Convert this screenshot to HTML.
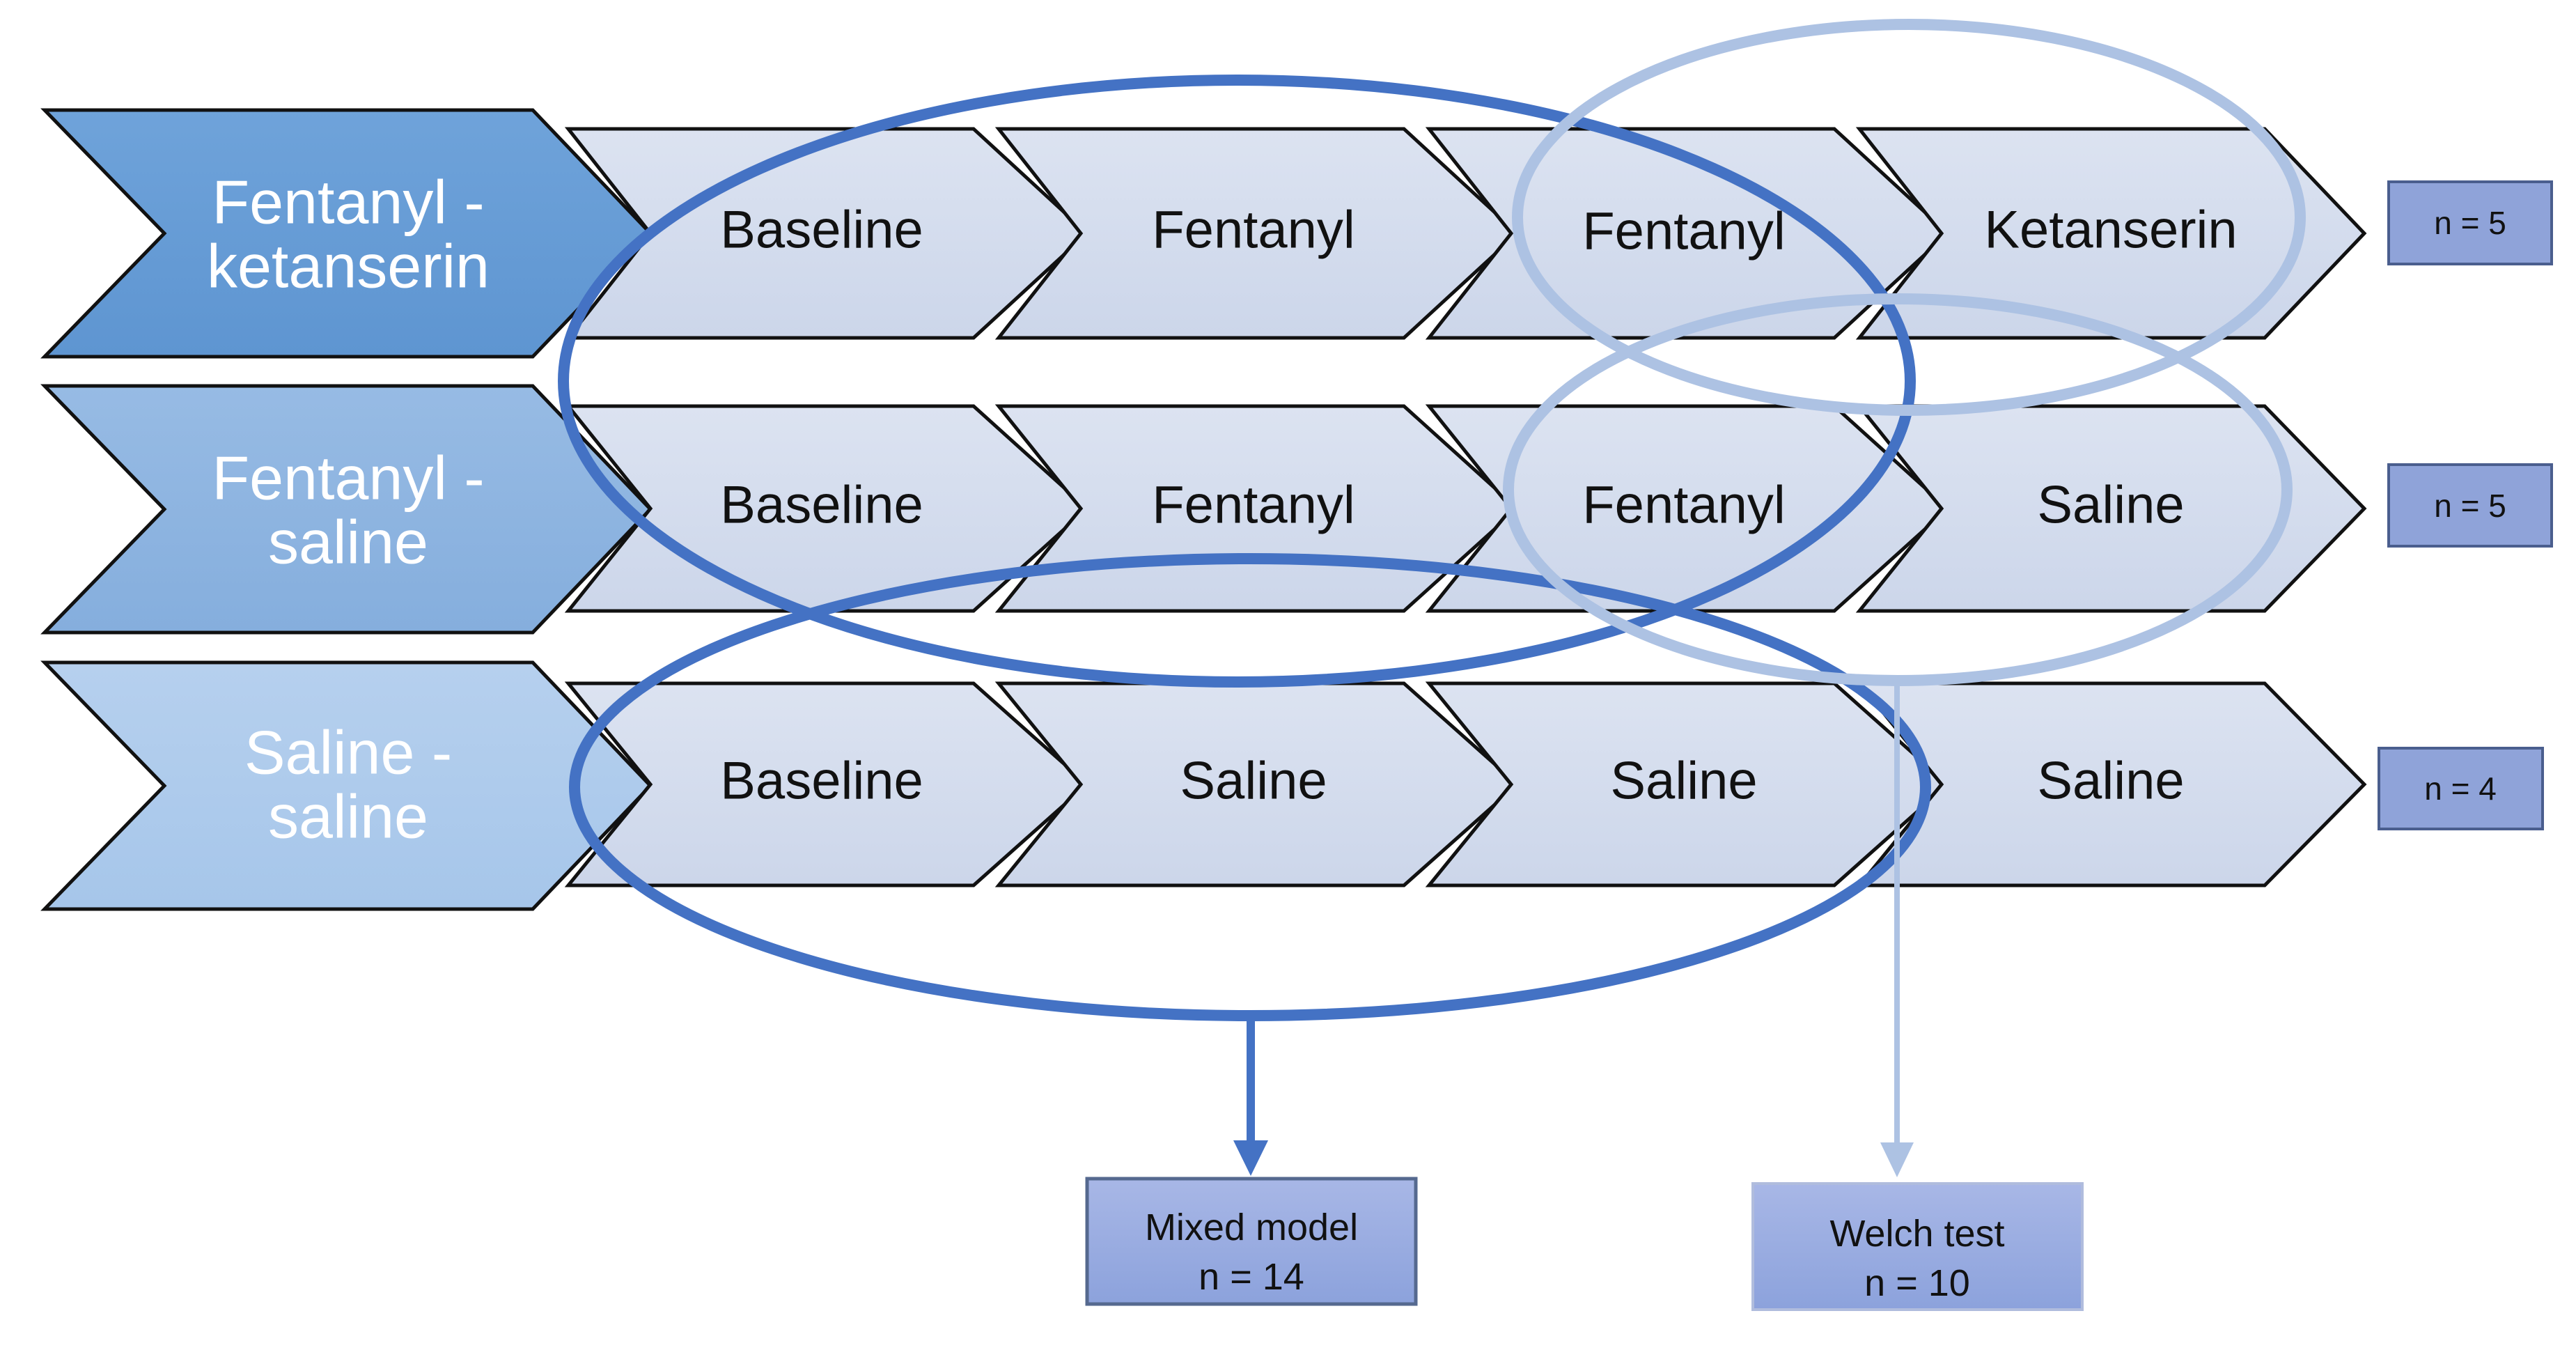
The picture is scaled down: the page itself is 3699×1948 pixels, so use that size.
<!DOCTYPE html>
<html><head><meta charset="utf-8"><style>
html,body{margin:0;padding:0;background:#fff;}
svg{display:block;}
text{font-family:"Liberation Sans",Arial,sans-serif;}
</style></head><body>
<svg width="3699" height="1948" viewBox="0 0 3699 1948" xmlns="http://www.w3.org/2000/svg">
<defs>
<linearGradient id="st" x1="0" y1="0" x2="0" y2="1"><stop offset="0" stop-color="#DCE3F1"/><stop offset="1" stop-color="#CCD6EA"/></linearGradient>
<linearGradient id="h1" x1="0" y1="0" x2="0" y2="1"><stop offset="0" stop-color="#6FA3DA"/><stop offset="1" stop-color="#5E95D1"/></linearGradient>
<linearGradient id="h2" x1="0" y1="0" x2="0" y2="1"><stop offset="0" stop-color="#97BBE4"/><stop offset="1" stop-color="#85AEDD"/></linearGradient>
<linearGradient id="h3" x1="0" y1="0" x2="0" y2="1"><stop offset="0" stop-color="#B6D0EE"/><stop offset="1" stop-color="#A6C6EA"/></linearGradient>
<linearGradient id="bx" x1="0" y1="0" x2="0" y2="1"><stop offset="0" stop-color="#A8B7E6"/><stop offset="1" stop-color="#8CA2DC"/></linearGradient>
</defs>
<g stroke="#111" stroke-width="5" stroke-linejoin="miter">
<polygon points="64,158 765,158 934,335 765,512 64,512 236,335" fill="url(#h1)"/>
<polygon points="64,554 765,554 934,731 765,908 64,908 236,731" fill="url(#h2)"/>
<polygon points="64,951 765,951 934,1128 765,1305 64,1305 236,1128" fill="url(#h3)"/>
</g>
<g stroke="#111" stroke-width="5" fill="url(#st)">
<polygon points="816,185 1398,185 1561,335 1398,485 816,485 934,335"/>
<polygon points="1434,185 2016,185 2179,335 2016,485 1434,485 1552,335"/>
<polygon points="2052,185 2634,185 2797,335 2634,485 2052,485 2170,335"/>
<polygon points="2670,185 3252,185 3395,335 3252,485 2670,485 2788,335"/>
<polygon points="816,583 1398,583 1561,730 1398,877 816,877 934,730"/>
<polygon points="1434,583 2016,583 2179,730 2016,877 1434,877 1552,730"/>
<polygon points="2052,583 2634,583 2797,730 2634,877 2052,877 2170,730"/>
<polygon points="2670,583 3252,583 3395,730 3252,877 2670,877 2788,730"/>
<polygon points="816,981 1398,981 1561,1126 1398,1271 816,1271 934,1126"/>
<polygon points="1434,981 2016,981 2179,1126 2016,1271 1434,1271 1552,1126"/>
<polygon points="2052,981 2634,981 2797,1126 2634,1271 2052,1271 2170,1126"/>
<polygon points="2670,981 3252,981 3395,1126 3252,1271 2670,1271 2788,1126"/>
</g>
<g fill="#fff" font-size="88" text-anchor="middle" dominant-baseline="central">
<text x="500" y="290">Fentanyl -</text><text x="500" y="382">ketanserin</text>
<text x="500" y="686">Fentanyl -</text><text x="500" y="778">saline</text>
<text x="500" y="1080">Saline -</text><text x="500" y="1172">saline</text>
</g>
<g fill="#111" font-size="76" text-anchor="middle" dominant-baseline="central">
<text x="1180" y="330">Baseline</text><text x="1800" y="330">Fentanyl</text><text x="2418" y="332">Fentanyl</text><text x="3031" y="330">Ketanserin</text>
<text x="1180" y="725">Baseline</text><text x="1800" y="725">Fentanyl</text><text x="2418" y="725">Fentanyl</text><text x="3031" y="725">Saline</text>
<text x="1180" y="1121">Baseline</text><text x="1800" y="1121">Saline</text><text x="2418" y="1121">Saline</text><text x="3031" y="1121">Saline</text>
</g>
<g fill="none" stroke-width="16">
<ellipse cx="1776" cy="547" rx="967" ry="432" stroke="#4472C4"/>
<ellipse cx="1795" cy="1130" rx="970" ry="328" stroke="#4472C4"/>
<ellipse cx="2741" cy="312" rx="562" ry="277" stroke="#ADC2E3"/>
<ellipse cx="2725" cy="703" rx="559" ry="274" stroke="#ADC2E3"/>
</g>
<line x1="1796" y1="1455" x2="1796" y2="1640" stroke="#4472C4" stroke-width="12"/>
<polygon points="1771,1637 1821,1637 1796,1688" fill="#4472C4"/>
<line x1="2724" y1="977" x2="2724" y2="1645" stroke="#ADC2E3" stroke-width="8"/>
<polygon points="2700,1640 2748,1640 2724,1690" fill="#ADC2E3"/>
<rect x="1561" y="1692" width="472" height="180" fill="url(#bx)" stroke="#55698F" stroke-width="5"/>
<rect x="2517" y="1699" width="473" height="181" fill="url(#bx)" stroke="#B0BCDD" stroke-width="4"/>
<g fill="#111" font-size="54" text-anchor="middle" dominant-baseline="central">
<text x="1797" y="1762">Mixed model</text><text x="1797" y="1833">n = 14</text>
<text x="2753" y="1771">Welch test</text><text x="2753" y="1842">n = 10</text>
</g>
<g fill="#8FA3D9" stroke="#4A5E8E" stroke-width="4">
<rect x="3430" y="261" width="234" height="118"/>
<rect x="3430" y="667" width="234" height="117"/>
<rect x="3416" y="1074" width="235" height="116"/>
</g>
<g fill="#111" font-size="46" text-anchor="middle" dominant-baseline="central">
<text x="3547" y="320">n = 5</text><text x="3547" y="726">n = 5</text><text x="3533" y="1132">n = 4</text>
</g>
</svg>
</body></html>
